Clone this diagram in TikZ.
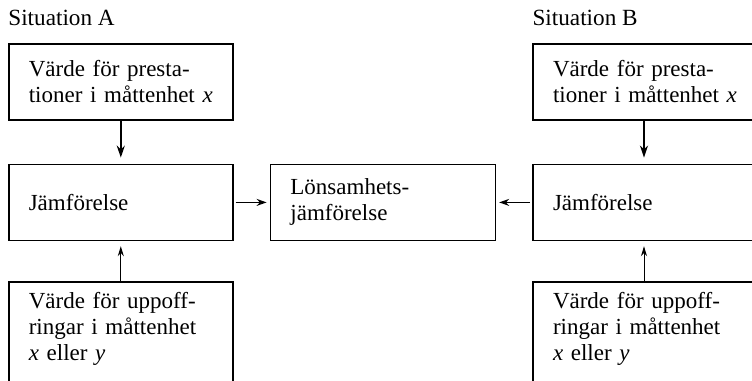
\documentclass[tikz,border=0pt]{standalone}
\usepackage{fontspec}
\setmainfont{Liberation Serif}
\usetikzlibrary{positioning, arrows.meta}

\begin{document}
\begin{tikzpicture}[
  box/.style={draw, line width=0.8pt, text width=92pt, inner xsep=10pt, minimum height=38pt, align=left, font=\fontsize{11.5}{13}\selectfont},
  lowbox/.style={box, minimum height=0pt, inner ysep=5.3pt, text depth=44pt},
  sitlabel/.style={inner sep=0pt, font=\fontsize{11.6}{13}\selectfont},
  arrdown/.style={-{Stealth[length=6pt,width=4pt]}, line width=1pt, shorten >=3pt},
  arrup/.style={-{Stealth[length=5pt,width=3pt]}, line width=0.5pt, shorten >=2.5pt},
  arrside/.style={-{Stealth[length=5pt,width=3.5pt]}, line width=0.6pt, shorten <=1pt, shorten >=1.5pt}]
\useasboundingbox (0,0) rectangle (376pt,-190.5pt);
\clip (0,0) rectangle (376pt,-190.5pt);

% situation A
\node[box, anchor=north west] (topA) at (4pt,-21.5pt) {V\"arde f\"or presta-\\\mbox{tioner i m\aa ttenhet \textit{x}}};
\node[sitlabel, above=8.5pt of topA.north west, anchor=south west] (sitA) {Situation A};
\node[box, below=21.5pt of topA] (cmpA) {J\"amf\"orelse};
\node[lowbox, below=20pt of cmpA.south west, anchor=north west] (botA) {V\"arde f\"or uppoff-\\ringar i m\aa ttenhet\\\textit{x} eller \textit{y}};

% result in the middle
\node[box, text width=92.5pt, right=18pt of cmpA] (lon) {L\"onsamhets-\\j\"amf\"orelse};

% situation B
\node[box, text width=100pt, right=18pt of lon] (cmpB) {J\"amf\"orelse};
\node[box, text width=91pt, above=21.5pt of cmpB.north west, anchor=south west] (topB) {V\"arde f\"or presta-\\\mbox{tioner i m\aa ttenhet \textit{x}}};
\node[sitlabel, above=8.5pt of topB.north west, anchor=south west] (sitB) {Situation B};
\node[lowbox, text width=100pt, below=20pt of cmpB.south west, anchor=north west] (botB) {V\"arde f\"or uppoff-\\ringar i m\aa ttenhet\\\textit{x} eller \textit{y}};

\draw[arrdown] (topA) -- (cmpA);
\draw[arrup] (botA) -- (cmpA);
\draw[arrside] (cmpA) -- (lon);

\draw[arrdown] (topB.south) -- (topB.south |- cmpB.north);
\draw[arrup] (topB.south |- botB.north) -- (topB.south |- cmpB.south);
\draw[arrside] (cmpB) -- (lon);

\end{tikzpicture}
\end{document}
